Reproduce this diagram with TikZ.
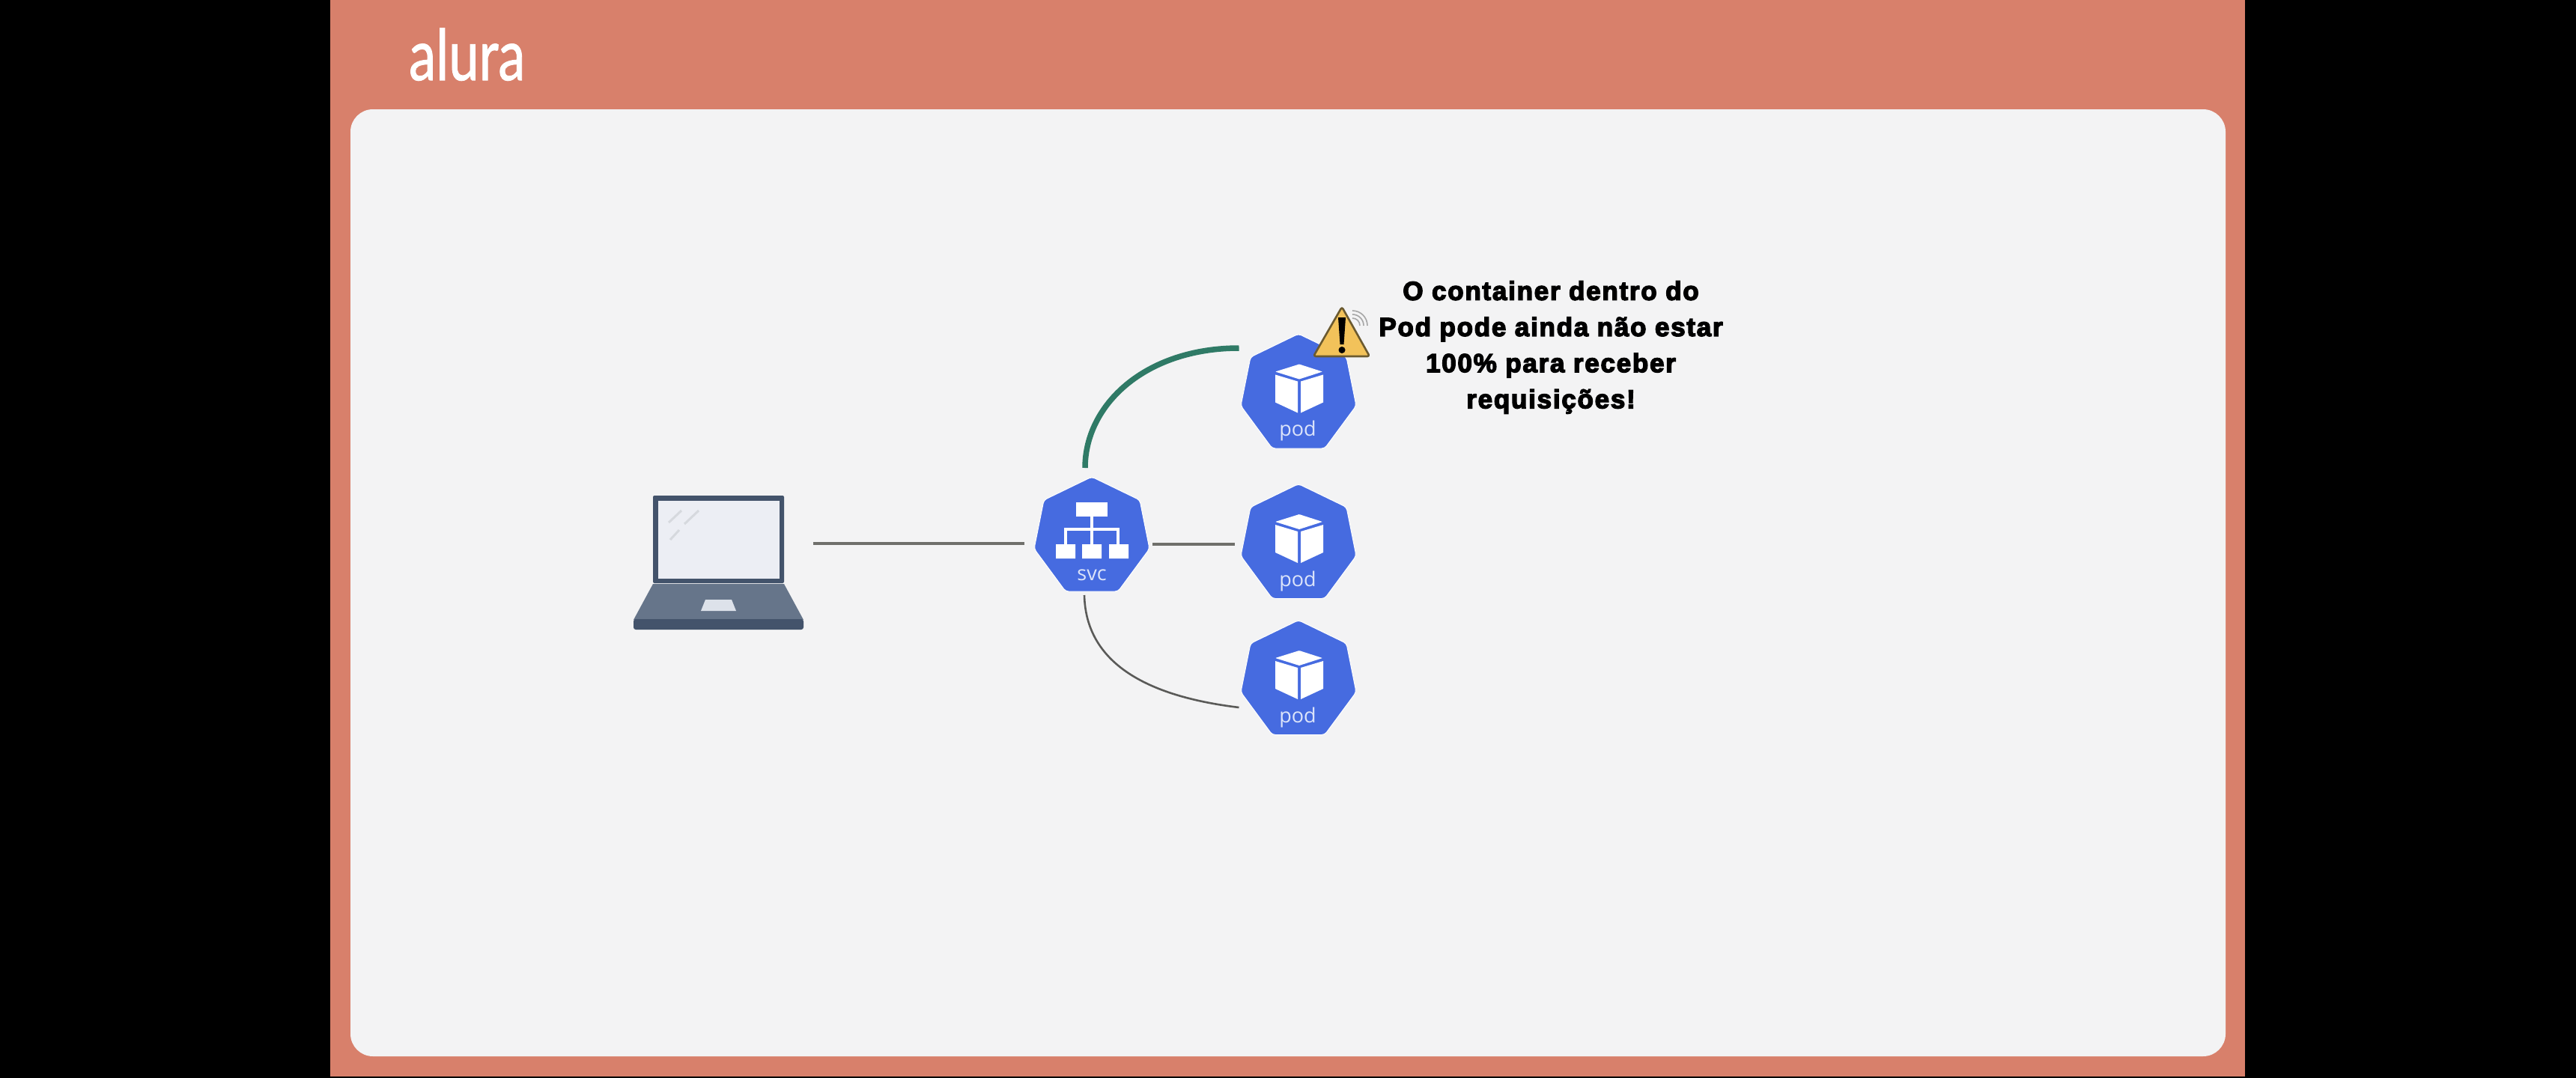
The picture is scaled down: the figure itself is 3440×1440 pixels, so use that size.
\documentclass[tikz,border=0pt]{standalone}
\usepackage{fontspec}
\setmainfont{Liberation Sans}
\newfontfamily\warnfont[BoldFeatures={FakeBold=4},LetterSpace=5]{Liberation Sans}
\newfontfamily\labelfont{Open Sans}
\newfontfamily\logofont[FakeBold=1.2]{Lato}
\definecolor{slidebg}{HTML}{D8806B}
\definecolor{cardbg}{HTML}{F3F3F4}
\definecolor{kubeblue}{HTML}{466BE0}
\definecolor{kubetext}{HTML}{DCE4FA}
\definecolor{linegray}{HTML}{6F6F6B}
\definecolor{linedark}{HTML}{5A5A58}
\definecolor{linegreen}{HTML}{2F7A66}
\definecolor{lapdark}{HTML}{43536B}
\definecolor{lapbase}{HTML}{66758A}
\definecolor{lapscreen}{HTML}{ECEEF4}
\definecolor{lappad}{HTML}{DDE2EA}
\definecolor{lapglare}{HTML}{D6D9DE}
\definecolor{warnyellow}{HTML}{F2C25A}
\definecolor{warnedge}{HTML}{6B5A30}
\tikzset{
  hitbox/.style={inner sep=0pt,outer sep=0pt,minimum width=#1,minimum height=#1},
  conn/.style={draw=linegray,line width=3.2pt},
  conncurve/.style={draw=linedark,line width=2.6pt},
  connactive/.style={draw=linegreen,line width=7.5pt},
  iconlabel/.style={text=kubetext,font=\labelfont\fontsize{27}{27}\selectfont,anchor=base,inner sep=0pt},
  heptagon/.pic={
    \path[fill=kubeblue,draw=white,line width=1pt,rounded corners=4pt]
      (0,-77) -- (64,-46) -- (77,19) -- (35,76) -- (-35,76) -- (-77,19) -- (-64,-46) -- cycle;
  },
  cube/.pic={
    \fill[white,rounded corners=0.8pt] (1,-36.5) -- (32,-26.5) -- (1,-16.5) -- (-31,-26.5) -- cycle;
    \fill[white] (-31,-22.5) -- (-1,-13.5) -- (-1,28.5) -- (-31,14.5) -- cycle;
    \fill[white] (3,-13.5) -- (33,-22.5) -- (33,14.5) -- (3,28.5) -- cycle;
  }
}
\begin{document}
\begin{tikzpicture}[x=1pt,y=-1pt]
\useasboundingbox (0,0) rectangle (3440,1440);
\fill[black] (0,0) rectangle (3440,1440);
\fill[slidebg] (441,0) rectangle (2998,1438);
\fill[cardbg,rounded corners=30pt] (468,146) rectangle (2972,1411);
\node[text=white,inner sep=0pt,anchor=base west,xscale=0.77,font=\logofont\fontsize{94}{94}\selectfont] (logo) at (546,107) {alura};

% laptop
\node[hitbox=1pt,minimum width=227pt,minimum height=179pt] (laptop) at (959.5,751.5) {};
\fill[lapdark,rounded corners=2pt] (872,662) rectangle (1047,779);
\fill[lapscreen] (879,669) rectangle (1041,773);
\fill[lapbase] (872,780) -- (1047,780) -- (1073,828) -- (846,828) -- cycle;
\fill[lapdark,rounded corners=3pt] (846,827) rectangle (1073,841);
\fill[lappad] (942,801) -- (977,801) -- (983,816) -- (936,816) -- cycle;
\draw[lapglare,line width=3pt] (910,682) -- (893,698) (933,682) -- (914,700) (907,708) -- (895,721);

% svc
\node[hitbox=152pt] (svc) at (1458,714) {};
\pic at (svc) {heptagon};
\fill[white] (1437,671) rectangle (1479,690);
\fill[white] (1410,727) rectangle (1436,746) (1445,727) rectangle (1471,746) (1481,727) rectangle (1507,746);
\draw[white,line width=4.5pt] (1458,690) -- (1458,727);
\draw[white,line width=3.4pt] (1423,727) -- (1423,707) -- (1493,707) -- (1493,727);
\node[iconlabel] (svclabel) at (1458,775) {svc};

% pods
\node[hitbox=151pt] (pod1) at (1734,523) {};
\node[hitbox=151pt] (pod2) at (1734,723.5) {};
\node[hitbox=151pt] (pod3) at (1734,905.5) {};
\foreach \p/\yb in {pod1/582,pod2/783,pod3/965}{
  \pic at (\p) {heptagon};
  \pic at (\p) {cube};
  \node[iconlabel] (\p label) at (1733,\yb) {pod};
}

% connectors
\path[conn] ([yshift=25.5pt]laptop.east) ++(12.5,0) -- ([xshift=-14pt,yshift=-12pt]svc.west);
\path[conn] ([xshift=5pt,yshift=-13pt]svc.east) -- ([xshift=-10pt,yshift=-3.5pt]pod2.west);
\path[connactive] ([xshift=-9pt]svc.north) ++(0,-13) .. controls (1449,540) and (1530,465) .. ([xshift=-4pt,yshift=58pt]pod1.west);
\path[conncurve] ([xshift=-10pt]svc.south) ++(0,5) .. controls (1450,885) and (1530,930) .. ([xshift=-4pt,yshift=-39.5pt]pod3.west);

% warning
\node[hitbox=1pt,minimum width=75pt,minimum height=67pt] (warn) at (1791.5,443.5) {};
\path[fill=warnyellow,draw=warnedge,line width=2.6pt,rounded corners=3pt,line join=round] (1792,410) -- (1829,476) -- (1754,476) -- cycle;
\fill[black] (1787,424) -- (1797,424) -- (1794.5,460) -- (1789.5,460) -- cycle;
\fill[black] (1792,467.5) circle (4.5pt);
\draw[gray!70,line width=1.6pt] (1816,435) arc (0:-90:10) (1821,435) arc (0:-90:15) (1826,435) arc (0:-90:20);
\node[inner sep=0pt,align=center,font=\warnfont\bfseries\fontsize{35}{48.2}\selectfont] (warntext) at (2071,464)
  {O container dentro do\\Pod pode ainda não estar\\100\% para receber\\requisições!};
\end{tikzpicture}
\end{document}
